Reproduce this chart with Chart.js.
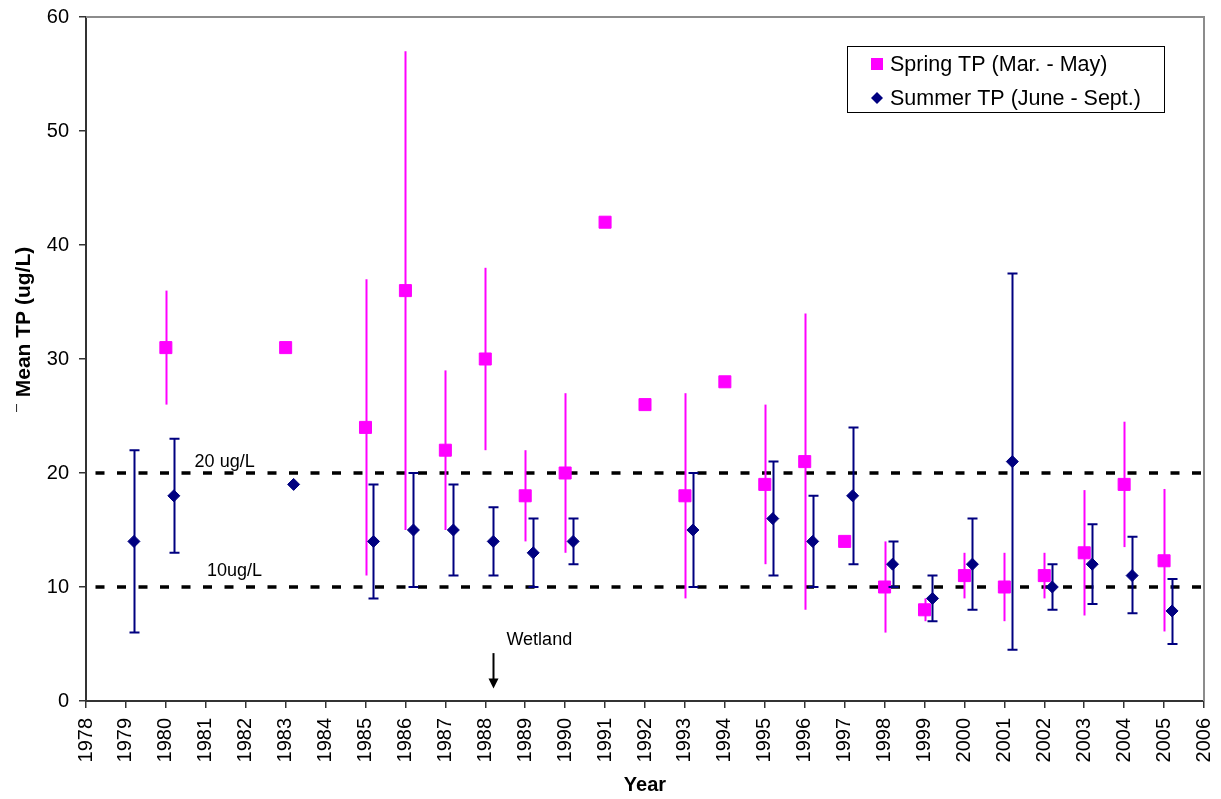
<!DOCTYPE html>
<html>
<head>
<meta charset="utf-8">
<title>Mean TP by year</title>
<script src="https://cdn.jsdelivr.net/npm/chart.js@4.4.1/dist/chart.umd.min.js"></script>
<style>
  html, body { margin: 0; padding: 0; background: #ffffff; }
  #wrap { width: 1221px; height: 799px; position: relative; }
</style>
</head>
<body>
<div id="wrap"><canvas id="chart"></canvas></div>
<script>
// ---- data -------------------------------------------------------------
const springYears = [1980, 1983, 1985, 1986, 1987, 1988, 1989, 1990, 1991, 1992, 1993, 1994,
                     1995, 1996, 1997, 1998, 1999, 2000, 2001, 2002, 2003, 2004, 2005];
const springMean  = [31, 31, 24, 36, 22, 30, 18, 20, 42, 26, 18, 28,
                     19, 21, 14, 10, 8, 11, 10, 11, 13, 19, 12.3];
const springLow   = [26, null, 11, 15, 15, 22, 14, 13, null, null, 9, null,
                     12, 8, null, 6, 7, 9, 7, 9, 7.5, 13.5, 6.1];
const springHigh  = [36, null, 37, 57, 29, 38, 22, 27, null, null, 27, null,
                     26, 34, null, 14, 9, 13, 13, 13, 18.5, 24.5, 18.6];

const summerYears = [1979, 1980, 1983, 1985, 1986, 1987, 1988, 1989, 1990, 1993, 1995,
                     1996, 1997, 1998, 1999, 2000, 2001, 2002, 2003, 2004, 2005];
const summerMean  = [14, 18, 19, 14, 15, 15, 14, 13, 14, 15, 16,
                     14, 18, 12, 9, 12, 21, 10, 12, 11, 7.9];
const summerLow   = [6, 13, null, 9, 10, 11, 11, 10, 12, 10, 11,
                     10, 12, 10, 7, 8, 4.5, 8, 8.5, 7.7, 5];
const summerHigh  = [22, 23, null, 19, 20, 19, 17, 16, 16, 20, 21,
                     18, 24, 14, 11, 16, 37.5, 12, 15.5, 14.4, 10.7];

const yearMin = 1978;
const yearMax = 2006;
const yTicks = [0, 10, 20, 30, 40, 50, 60];

const guideLevels = [20, 10];
const noteTexts = ['20 ug/L', '10ug/L', 'Wetland'];
const noteX     = [1980.72, 1981.03, 1988.53];
const noteY     = [21.0, 11.4, 5.35];

const wetlandYear = 1988.2;
const wetlandArrowFrom = 4.2;
const wetlandArrowTo = 1.1;

const seriesNames = ['Spring TP (Mar. - May)', 'Summer TP (June - Sept.)'];

// ---- styling ------------------------------------------------------------
const FONT = "'Liberation Sans', Arial, Helvetica, sans-serif";
const SPRING_COLOR = '#FF00FF';
const SUMMER_COLOR = '#000080';
const AXIS_COLOR = '#333333';
const FRAME_COLOR = '#8c8c8c';
const SUMMER_OFFSET = 0.2;   // summer markers sit just right of the year tick

const springPoints = springYears.map((yr, i) => ({ x: yr, y: springMean[i], lo: springLow[i], hi: springHigh[i] }));
const summerPoints = summerYears.map((yr, i) => ({ x: yr + SUMMER_OFFSET, y: summerMean[i], lo: summerLow[i], hi: summerHigh[i] }));

const guideSets = guideLevels.map(lvl => ({
  type: 'line',
  data: [{ x: yearMin, y: lvl }, { x: yearMax, y: lvl }],
  borderColor: '#000000',
  borderWidth: 3.5,
  borderDash: [9, 12.5],
  borderDashOffset: 12,
  pointRadius: 0,
  fill: false,
  order: 10
}));

// error bars, drawn right before the markers of their own series
const errorBars = {
  id: 'errorBars',
  beforeDatasetDraw(chart, args) {
    const ds = chart.data.datasets[args.index];
    if (!ds.errorStyle) return;
    const xs = chart.scales.x, ys = chart.scales.y;
    const ctx = chart.ctx;
    ctx.save();
    ctx.strokeStyle = ds.errorStyle.color;
    ctx.lineWidth = ds.errorStyle.width;
    ctx.lineCap = 'butt';
    ds.data.forEach(p => {
      if (p.lo == null || p.hi == null) return;
      const px = Math.round(xs.getPixelForValue(p.x)) + 0.5;
      const yl = ys.getPixelForValue(p.lo);
      const yh = ys.getPixelForValue(p.hi);
      ctx.beginPath();
      ctx.moveTo(px, yl);
      ctx.lineTo(px, yh);
      const c = ds.errorStyle.cap;
      if (c > 0) {
        ctx.moveTo(px - c, yl); ctx.lineTo(px + c, yl);
        ctx.moveTo(px - c, yh); ctx.lineTo(px + c, yh);
      }
      ctx.stroke();
    });
    ctx.restore();
  }
};

// frame, titles, notes, arrow and legend
const decorations = {
  id: 'decorations',
  beforeDatasetsDraw(chart) {
    const { ctx, chartArea: a } = chart;
    ctx.save();
    ctx.strokeStyle = FRAME_COLOR;
    ctx.lineWidth = 2;
    ctx.beginPath();
    ctx.moveTo(a.left, a.top);
    ctx.lineTo(a.right, a.top);
    ctx.lineTo(a.right, a.bottom);
    ctx.stroke();
    ctx.restore();
  },
  afterDatasetsDraw(chart) {
    const { ctx, chartArea: a } = chart;
    const xs = chart.scales.x, ys = chart.scales.y;
    ctx.save();

    // reference-level notes
    ctx.fillStyle = '#000000';
    ctx.font = '18px ' + FONT;
    ctx.textAlign = 'left';
    ctx.textBaseline = 'middle';
    noteTexts.forEach((t, i) => {
      ctx.fillText(t, xs.getPixelForValue(noteX[i]), ys.getPixelForValue(noteY[i]));
    });

    // wetland arrow
    const ax = Math.round(xs.getPixelForValue(wetlandYear)) + 0.5;
    const ay0 = ys.getPixelForValue(wetlandArrowFrom);
    const ay1 = ys.getPixelForValue(wetlandArrowTo);
    ctx.strokeStyle = '#000000';
    ctx.lineWidth = 2;
    ctx.beginPath();
    ctx.moveTo(ax, ay0);
    ctx.lineTo(ax, ay1 - 8);
    ctx.stroke();
    ctx.beginPath();
    ctx.moveTo(ax - 5, ay1 - 10);
    ctx.lineTo(ax + 5, ay1 - 10);
    ctx.lineTo(ax, ay1);
    ctx.closePath();
    ctx.fill();

    // axis titles
    ctx.font = 'bold 20px ' + FONT;
    ctx.textAlign = 'center';
    ctx.textBaseline = 'middle';
    ctx.fillText('Year', (a.left + a.right) / 2, 785);

    ctx.save();
    ctx.translate(24, 322);
    ctx.rotate(-Math.PI / 2);
    ctx.font = 'bold 21px ' + FONT;
    ctx.fillText('Mean TP (ug/L)', 0, 0);
    ctx.restore();
    ctx.font = '10px ' + FONT;
    ctx.fillText('l', 16.5, 409);

    // legend
    const lx = 847, ly = 46, lw = 317, lh = 66;
    ctx.fillStyle = '#ffffff';
    ctx.fillRect(lx, ly, lw, lh);
    ctx.strokeStyle = '#000000';
    ctx.lineWidth = 1;
    ctx.strokeRect(lx + 0.5, ly + 0.5, lw, lh);

    const rows = [ly + 18, ly + 52];
    ctx.fillStyle = SPRING_COLOR;
    ctx.fillRect(871, rows[0] - 6, 12, 12);
    ctx.fillStyle = SUMMER_COLOR;
    ctx.beginPath();
    ctx.moveTo(877, rows[1] - 6);
    ctx.lineTo(883, rows[1]);
    ctx.lineTo(877, rows[1] + 6);
    ctx.lineTo(871, rows[1]);
    ctx.closePath();
    ctx.fill();

    ctx.fillStyle = '#000000';
    ctx.font = '21.5px ' + FONT;
    ctx.textAlign = 'left';
    ctx.textBaseline = 'middle';
    ctx.fillText(seriesNames[0], 890, rows[0] + 1);
    ctx.fillText(seriesNames[1], 890, rows[1] + 1);

    ctx.restore();
  }
};

const chart = new Chart(document.getElementById('chart'), {
  type: 'scatter',
  data: {
    datasets: [
      {
        label: seriesNames[0],
        data: springPoints,
        pointStyle: 'rect',
        pointRadius: 8.5,
        pointBorderWidth: 1,
        backgroundColor: SPRING_COLOR,
        borderColor: SPRING_COLOR,
        errorStyle: { color: SPRING_COLOR, width: 2, cap: 0 },
        order: 2
      },
      {
        label: seriesNames[1],
        data: summerPoints,
        pointStyle: 'rectRot',
        pointRadius: 6,
        pointBorderWidth: 1,
        backgroundColor: SUMMER_COLOR,
        borderColor: SUMMER_COLOR,
        errorStyle: { color: SUMMER_COLOR, width: 2, cap: 5 },
        order: 1
      },
      ...guideSets
    ]
  },
  options: {
    responsive: true,
    maintainAspectRatio: false,
    animation: false,
    devicePixelRatio: 1,
    events: [],
    layout: { padding: { top: 17, right: 17, left: 0, bottom: 0 } },
    plugins: {
      legend: { display: false },
      tooltip: { enabled: false }
    },
    scales: {
      x: {
        type: 'linear',
        min: yearMin,
        max: yearMax,
        afterFit(scale) {
          scale.height = 98;
          scale.paddingLeft = 0;
          scale.paddingRight = 0;
        },
        afterBuildTicks(scale) {
          const t = [];
          for (let v = yearMin; v <= yearMax; v++) t.push({ value: v });
          scale.ticks = t;
        },
        ticks: {
          autoSkip: false,
          minRotation: 90,
          maxRotation: 90,
          padding: 10,
          color: '#000000',
          font: { family: FONT, size: 20 },
          callback: v => String(v)
        },
        grid: { display: true, drawOnChartArea: false, drawTicks: true, tickLength: 7, color: AXIS_COLOR, lineWidth: 1.5 },
        border: { display: true, color: AXIS_COLOR, width: 2 }
      },
      y: {
        type: 'linear',
        min: 0,
        max: 60,
        afterFit(scale) {
          scale.width = 86;
          scale.paddingTop = 0;
          scale.paddingBottom = 0;
        },
        afterBuildTicks(scale) { scale.ticks = yTicks.map(v => ({ value: v })); },
        ticks: {
          padding: 10,
          color: '#000000',
          font: { family: FONT, size: 20 },
          callback: v => String(v)
        },
        grid: { display: true, drawOnChartArea: false, drawTicks: true, tickLength: 7, color: AXIS_COLOR, lineWidth: 1.5 },
        border: { display: true, color: AXIS_COLOR, width: 2 }
      }
    }
  },
  plugins: [errorBars, decorations]
});
</script>
</body>
</html>
